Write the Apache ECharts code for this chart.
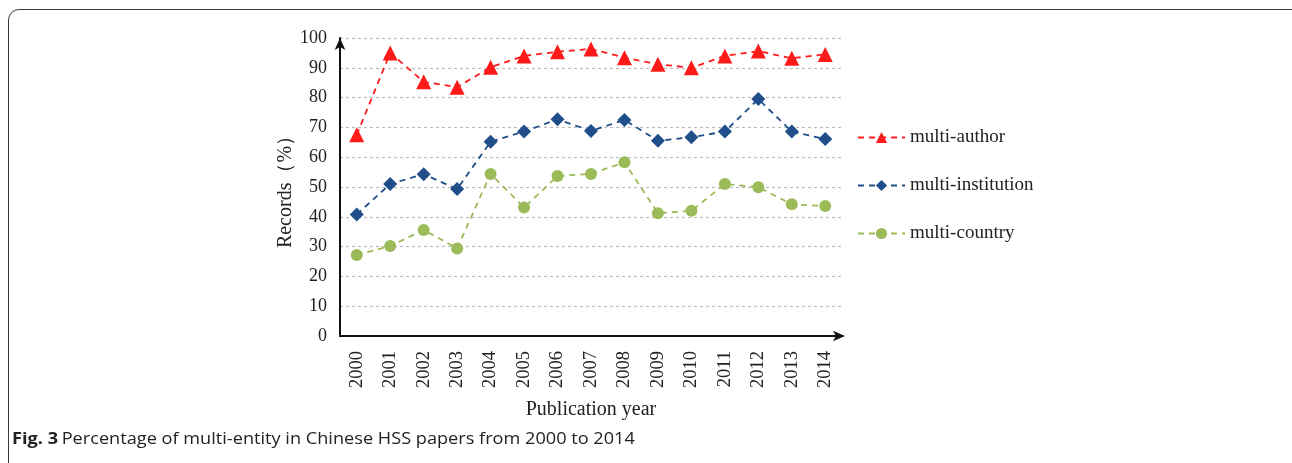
<!DOCTYPE html>
<html><head><meta charset="utf-8">
<script src="https://cdn.jsdelivr.net/npm/echarts@6/dist/echarts.min.js"></script>
<style>
html,body{margin:0;padding:0;background:#fff;width:1292px;height:463px;overflow:hidden;}
#frame{position:absolute;left:8px;top:9px;width:1300px;height:520px;border:1.6px solid #3a3a3a;border-radius:11px;box-sizing:border-box;}
#c{position:absolute;left:0;top:0;width:1292px;height:463px;}
</style></head>
<body>
<div id="frame"></div>
<div id="c"></div>
<script>
const years = ['2000','2001','2002','2003','2004','2005','2006','2007','2008','2009','2010','2011','2012','2013','2014'];
const multiAuthor = [67.5,95,85.3,83.5,90.2,94,95.4,96.3,93.4,91.2,90,94,95.6,93.2,94.5];
const multiInstitution = [40.8,51,54.3,49.3,65.2,68.6,72.7,68.8,72.5,65.5,66.7,68.6,79.5,68.6,66.1];
const multiCountry = [27.2,30.2,35.6,29.4,54.4,43.1,53.7,54.4,58.3,41.2,42,51,49.9,44.2,43.6];
const seriesNames = ['multi-author','multi-institution','multi-country'];
const yTicks = [0,10,20,30,40,50,60,70,80,90,100];

const serif = '"Liberation Serif","DejaVu Serif",serif';
const chart = echarts.init(document.getElementById('c'), null, {renderer:'canvas'});
function mk(name, data, color, symbol, size){
  return {name, type:'line', data, symbol, symbolSize:size, showAllSymbol:true,
    lineStyle:{color, width:1.8, type:[6,5]}, itemStyle:{color}, z:3};
}
chart.setOption({
  animation:false,
  grid:{left:340, top:38, width:502, height:298, containLabel:false},
  xAxis:{type:'category', data:years, boundaryGap:true,
    axisLine:{show:true, symbol:['none','arrow'], symbolSize:[8,12], symbolOffset:[0,3], lineStyle:{color:'#111', width:2}},
    axisTick:{show:false},
    axisLabel:{rotate:90, fontFamily:serif, fontSize:18.5, color:'#222', margin:15},
    name:'Publication year', nameLocation:'middle', nameGap:64,
    nameTextStyle:{fontFamily:serif, fontSize:20, color:'#222'}
  },
  yAxis:{type:'value', min:0, max:100, interval:10,
    axisLine:{show:true, symbol:['none','arrow'], symbolSize:[8,12], lineStyle:{color:'#111', width:2}},
    axisTick:{show:false},
    axisLabel:{fontFamily:serif, fontSize:18, color:'#222', margin:13, formatter:v=>yTicks.includes(v)?String(v):''},
    splitLine:{show:true, lineStyle:{color:'#bdbdbd', type:[3,3], width:1.2}},
    name:'Records（%）', nameLocation:'middle', nameGap:43, nameRotate:90,
    nameTextStyle:{fontFamily:serif, fontSize:20, color:'#222'}
  },
  legend:{orient:'vertical', left:852, top:123, itemGap:29, itemWidth:47, itemHeight:14,
    data:seriesNames,
    textStyle:{fontFamily:serif, fontSize:19, color:'#222'}},
  series:[
    mk(seriesNames[0], multiAuthor, '#ff1a1a', 'triangle', 15),
    mk(seriesNames[1], multiInstitution, '#1f4e8a', 'diamond', 14),
    mk(seriesNames[2], multiCountry, '#9bbb59', 'circle', 12)
  ],
  graphic:[{type:'text', x:12, y:431, scaleX:1.1, scaleY:1,
    style:{rich:{b:{fontFamily:'"Open Sans","Noto Sans",sans-serif', fontWeight:'bold', fontSize:16.5, fill:'#222'},
                 n:{fontFamily:'"Open Sans","Noto Sans",sans-serif', fontSize:16.5, fill:'#222'}},
      text:'{b|Fig. 3} {n|Percentage of multi-entity in Chinese HSS papers from 2000 to 2014}'}}]
});
</script>
</body></html>
